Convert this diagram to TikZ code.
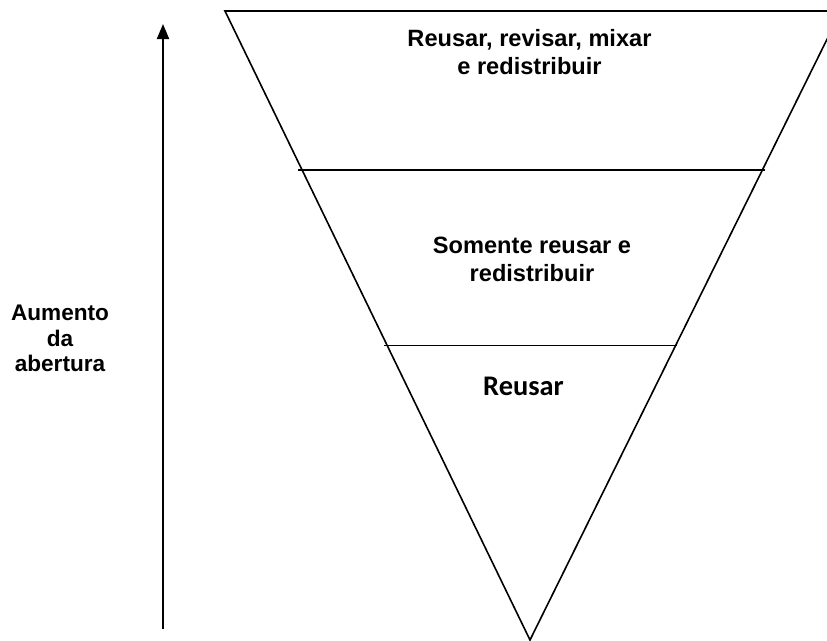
\documentclass[tikz,border=0pt]{standalone}
\usepackage{fontspec}
\usepackage{tikz}
\usetikzlibrary{arrows.meta}
\newfontfamily\arialfont{Liberation Sans}
\newfontfamily\calibrifont{Carlito}

\tikzset{
	level/.style={font=\arialfont\bfseries\fontsize{23.6}{28}\selectfont, align=center, inner sep=0pt},
	levelc/.style={font=\calibrifont\bfseries\fontsize{28.4}{34}\selectfont, inner sep=0pt},
	side/.style={font=\arialfont\bfseries\fontsize{22.6}{25.5}\selectfont, align=center, inner sep=0pt},
	edge/.style={line width=1.6pt},
	rise/.style={line width=2pt, -{Triangle[width=12pt,length=15pt]}}
}

\begin{document}
\begin{tikzpicture}[x=1pt,y=-1pt]
\useasboundingbox (0,0) rectangle (827,640);
\clip (0,0) rectangle (827,640);
\path (225,11) coordinate (tl)
		(841,11) coordinate (tr)
		(530,640) coordinate (apex)
		(163,629) coordinate (low)
		(163,24) coordinate (high)
		(529.5,29) node[level, anchor=north] (mix) {Reusar, revisar, mixar\\e redistribuir}
		(532,237) node[level, anchor=north] (redis) {Somente reusar e\\redistribuir}
		(523.5,395) node[levelc, anchor=base] (reuse) {Reusar}
		(60,305) node[side, anchor=north] (open) {Aumento\\da\\abertura};
\draw[edge] (tl) -- (tr) -- (apex) -- cycle;
\draw[edge] (298,170) -- (765,170);
\draw[edge] (384,345.5) -- (677,345.5);
\draw[rise] (low) -- (high);

\end{tikzpicture}
\end{document}
